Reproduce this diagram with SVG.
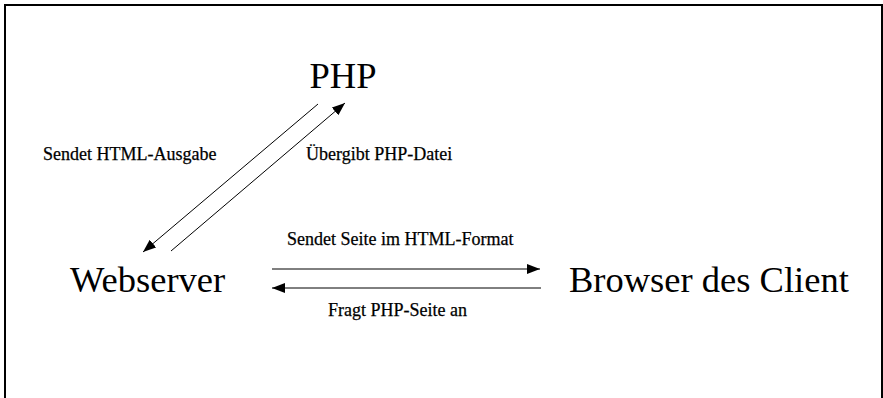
<svg xmlns="http://www.w3.org/2000/svg" width="883" height="398" viewBox="0 0 883 398">
<style>
.big{font-family:"Liberation Serif","Times New Roman",serif;font-size:36.5px;fill:#000}
.small{font-family:"Liberation Serif","Times New Roman",serif;font-size:18px;fill:#000;stroke:#000;stroke-width:0.25}
.conn{stroke:#000;stroke-width:1;fill:none}
</style>
<defs>
<marker id="ah" markerUnits="userSpaceOnUse" markerWidth="14" markerHeight="10" refX="13" refY="5" orient="auto">
<path d="M0,0 L13,5 L0,10 Z" fill="#000"/>
</marker>
</defs>
<rect x="5" y="5" width="877" height="400" fill="#fff" stroke="#000" stroke-width="2"/>
<g id="php"><text class="big" x="343" y="88" text-anchor="middle">PHP</text></g>
<g id="webserver"><text class="big" x="70" y="292">Webserver</text></g>
<g id="browser"><text class="big" x="569" y="292">Browser des Client</text></g>
<g id="connectors">
<line class="conn" x1="318" y1="104" x2="143" y2="252" marker-end="url(#ah)"/>
<line class="conn" x1="171" y1="251" x2="345" y2="103" marker-end="url(#ah)"/>
<line class="conn" x1="272" y1="269" x2="540" y2="269" marker-end="url(#ah)"/>
<line class="conn" x1="541" y1="288" x2="272" y2="288" marker-end="url(#ah)"/>
<text class="small" x="43" y="160">Sendet HTML-Ausgabe</text>
<text class="small" x="306" y="160">Übergibt PHP-Datei</text>
<text class="small" x="287" y="245">Sendet Seite im HTML-Format</text>
<text class="small" x="328" y="316">Fragt PHP-Seite an</text>
</g>
</svg>
